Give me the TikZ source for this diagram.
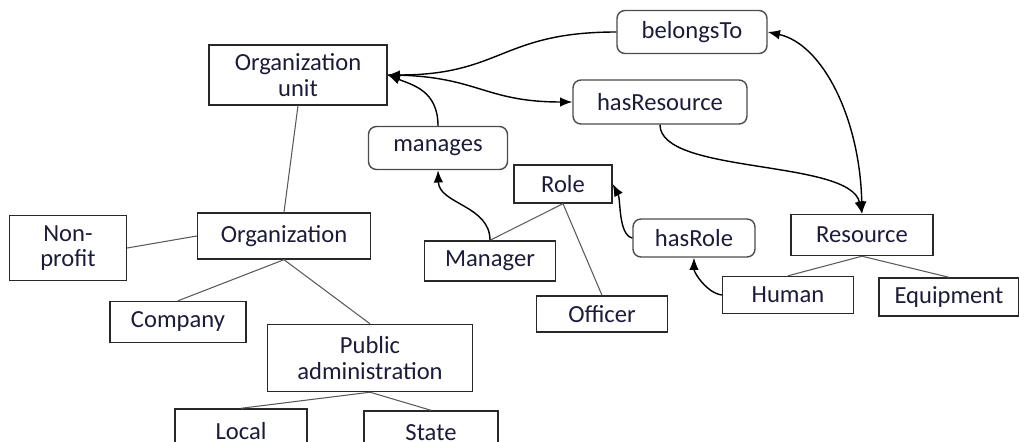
\documentclass[tikz,border=0pt]{standalone}
\usepackage{fontspec}
\setmainfont{Carlito}
\usetikzlibrary{shapes, arrows.meta, positioning}
\definecolor{inktext}{RGB}{28,28,58}
\definecolor{boxline}{RGB}{40,40,40}
\tikzstyle{concept} = [draw=boxline, line width=0.8pt, fill=white, rectangle, align=center, inner sep=0pt, text=inktext]
\tikzstyle{relation} = [concept, draw=black!70, rounded corners=4.5pt]
\tikzstyle{isa} = [draw=black!65, line width=0.6pt]
\tikzstyle{link} = [->, draw=black, line width=0.8pt]

\begin{document}
\begin{tikzpicture}[auto,>={Latex[length=7pt,width=5.5pt]},x=0.02cm,y=-0.02cm,
    font=\fontsize{14}{14.5}\selectfont]
  \useasboundingbox (0,0) rectangle (1019,442);
  \clip (0,0) rectangle (1019,442);
  % concepts
  \node[concept, minimum width=3.56cm, minimum height=1.2cm] (unit) at (298,75) {Organization\\unit};
  \node[concept, minimum width=3.46cm, minimum height=0.92cm] (org) at (284,236) {Organization};
  \node[concept, minimum width=2.34cm, minimum height=1.3cm] (nonprofit) at (68,248) {Non-\\profit};
  \node[concept, minimum width=2.72cm, minimum height=0.82cm] (company) at (178,322) {Company};
  \node[concept, minimum width=4.1cm, minimum height=1.34cm] (public) at (370,358) {Public\\administration};
  \node[concept, minimum width=2.64cm, minimum height=0.88cm] (local) at (241,431) {Local};
  \node[concept, minimum width=2.68cm, minimum height=0.88cm] (state) at (431,433) {State};
  \node[concept, minimum width=1.96cm, minimum height=0.76cm] (role) at (563,184) {Role};
  \node[concept, minimum width=2.62cm, minimum height=0.8cm] (manager) at (490,261) {Manager};
  \node[concept, minimum width=2.62cm, minimum height=0.72cm] (officer) at (602,314) {Officer};
  \node[concept, minimum width=2.84cm, minimum height=0.82cm] (resource) at (862,235) {Resource};
  \node[concept, minimum width=2.62cm, minimum height=0.74cm] (human) at (788,295) {Human};
  \node[concept, minimum width=2.8cm, minimum height=0.76cm] (equipment) at (949,297) {Equipment};
  % relations
  \node[relation, minimum width=3.0cm, minimum height=0.86cm] (belongs) at (692,32) {belongsTo};
  \node[relation, minimum width=3.48cm, minimum height=0.88cm] (hasres) at (660,102) {hasResource};
  \node[relation, minimum width=2.78cm, minimum height=0.86cm] (manages) at (438,148) {manages};
  \node[relation, minimum width=2.44cm, minimum height=0.76cm] (hasrole) at (694,238) {hasRole};
  % hierarchy
  \draw[isa] (unit.south) -- (org.north);
  \draw[isa] (org.west) -- (nonprofit.east);
  \draw[isa] (org.south) -- (company.north);
  \draw[isa] (org.south) -- (public.north);
  \draw[isa] (public.south) -- (local.north);
  \draw[isa] (public.south) -- (state.north);
  \draw[isa] (role.south) -- (manager.north);
  \draw[isa] (role.south) -- (officer.north);
  \draw[isa] (resource.south) -- (human.north);
  \draw[isa] (resource.south) -- (equipment.north);
  % relations
  \draw[link] (belongs.west) .. controls +(-115,0) and +(114,0) .. (unit.east);
  \draw[link] (manages.north) .. controls +(0,-35) and +(25,10) .. (unit.east);
  \draw[link] (unit.east) .. controls +(90,0) and +(-90,0) .. (hasres.west);
  \draw[link, <->] (belongs.east) .. controls +(55,12) and +(-2,-95) .. (resource.north);
  \draw[link] (hasres.south) .. controls +(0,50) and +(-12,-55) .. (resource.north);
  \draw[link] (manager.north) .. controls +(0,-35) and +(1,34) .. (manages.south);
  \draw[link] (hasrole.west) .. controls +(-14,-3) and +(8,15) .. (role.east);
  \draw[link] (human.west) .. controls +(-15,-2) and +(0,15) .. (hasrole.south);
\end{tikzpicture}
\end{document}
